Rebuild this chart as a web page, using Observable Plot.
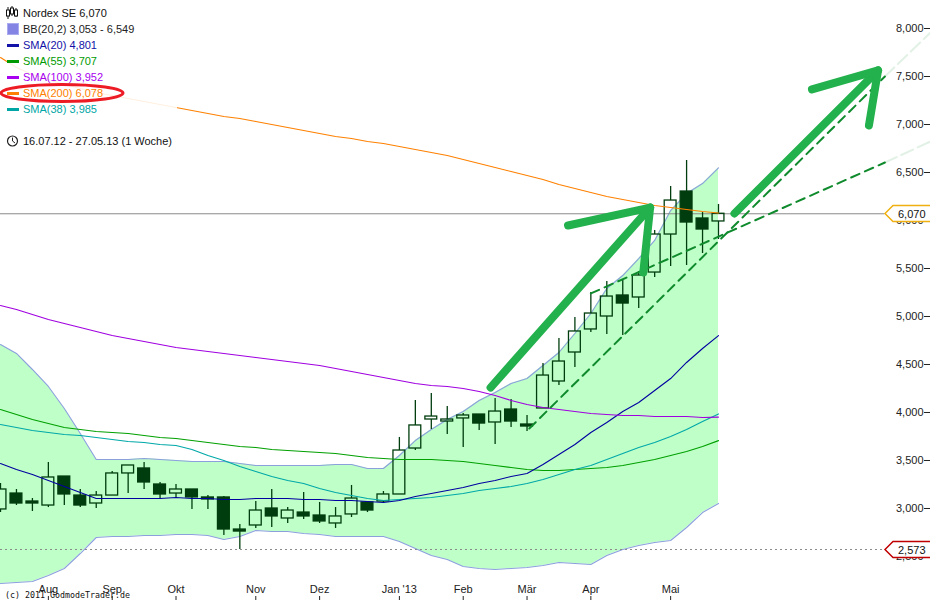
<!DOCTYPE html>
<html><head><meta charset="utf-8">
<style>
html,body{margin:0;padding:0;background:#fff}
#wrap{position:relative;width:930px;height:600px;overflow:hidden;font-family:"Liberation Sans",Arial,sans-serif}
#wrap svg{display:block}
#veil{position:absolute;left:8px;top:0;width:169px;height:150px;background:rgba(255,255,255,.88)}
.row{position:absolute;left:23px;font-size:11px;line-height:14px;white-space:nowrap}
.key{position:absolute;left:7px;width:12px;height:3px}
#ov{position:absolute;left:0;top:0;pointer-events:none}
#copy{position:absolute;left:5px;top:589px;font:8.3px/12px "DejaVu Sans Mono",monospace;color:#111;white-space:nowrap}
</style>
<script src="https://cdn.jsdelivr.net/npm/d3@7"></script>
<script src="https://cdn.jsdelivr.net/npm/@observablehq/plot@0.6"></script>
</head><body><div id="wrap"></div>
<script>
const open_ = [2990,3156,3073,3031,3333,3135,3052,3135,3365,3417,3250,3156,3198,3115,3115,2781,2823,3000,2896,2958,2927,2844,2938,3063,3073,3146,3625,3927,3906,3938,3979,3896,4031,3875,4042,4323,4625,4865,5000,5219,5198,5458,5854,6302,6021,5990];
const high_ = [3260,3198,3104,3479,3333,3198,3177,3385,3448,3479,3271,3250,3198,3135,3125,2833,3073,3198,3010,3167,3063,3010,3240,3073,3177,3740,4125,4198,4063,3990,3979,4146,4135,3969,4510,4771,4990,5250,5365,5375,5469,5896,6354,6625,6083,6167];
const low_ = [2958,3031,2969,3010,3031,3010,3000,3135,3156,3198,3104,3115,2990,2990,2719,2573,2792,2802,2844,2885,2844,2792,2906,2958,3052,3146,3604,3823,3771,3635,3813,3667,3844,3802,4042,4281,4469,4833,4813,4802,5083,5406,5521,5531,5656,5802];
const close_ = [3198,3052,3052,3323,3146,3031,3135,3365,3448,3271,3146,3198,3115,3094,2781,2760,2979,2917,2979,2917,2865,2917,3104,2979,3146,3604,3865,3958,3927,3969,3885,4010,3906,3854,4385,4531,4844,5031,5208,5135,5427,5854,6208,5979,5906,6070];
const bbUpper = [4708,4615,4448,4271,4042,3781,3510,3510,3510,3521,3510,3500,3490,3490,3490,3469,3448,3448,3448,3448,3448,3458,3458,3417,3417,3552,3708,3823,3927,4010,4125,4208,4302,4354,4490,4625,4823,5031,5292,5427,5604,5792,6104,6281,6385,6549];
const bbLower = [2219,2229,2240,2302,2375,2531,2698,2708,2708,2719,2719,2729,2729,2719,2677,2708,2771,2760,2760,2740,2729,2708,2708,2708,2708,2656,2583,2510,2469,2396,2375,2365,2375,2385,2406,2438,2427,2417,2510,2573,2615,2646,2667,2802,2958,3053];
const sma20 = [3469,3406,3354,3292,3229,3167,3104,3104,3104,3104,3104,3115,3104,3104,3094,3094,3104,3104,3104,3094,3094,3083,3083,3073,3063,3083,3125,3156,3188,3219,3260,3292,3333,3365,3458,3563,3667,3792,3896,4010,4104,4229,4354,4521,4667,4801];
const sma38 = [3875,3844,3813,3792,3771,3760,3740,3719,3698,3688,3667,3656,3615,3552,3500,3438,3385,3333,3292,3260,3208,3167,3135,3104,3083,3094,3104,3115,3135,3156,3188,3208,3229,3260,3302,3354,3406,3448,3510,3573,3635,3688,3750,3823,3906,3985];
const sma55 = [4031,3979,3927,3885,3844,3823,3802,3792,3781,3760,3740,3729,3708,3688,3667,3646,3635,3615,3604,3594,3583,3573,3552,3531,3521,3510,3510,3510,3500,3490,3469,3448,3427,3406,3396,3396,3406,3417,3427,3448,3479,3510,3552,3594,3646,3707];
const sma100 = [5115,5073,5021,4969,4927,4885,4844,4802,4771,4740,4708,4677,4656,4635,4615,4594,4573,4552,4531,4510,4490,4458,4427,4396,4365,4333,4302,4281,4271,4250,4219,4177,4125,4083,4052,4031,4010,3990,3979,3969,3969,3958,3958,3958,3948,3952];
const sma200 = [7698,7594,7521,7469,7417,7375,7333,7302,7271,7240,7208,7177,7146,7115,7083,7063,7031,7000,6969,6938,6906,6875,6854,6823,6802,6771,6740,6708,6677,6635,6594,6552,6510,6469,6427,6375,6333,6292,6250,6219,6188,6156,6135,6115,6094,6078];
const yTicks = [2500,3000,3500,4000,4500,5000,5500,6000,6500,7000,7500,8000];
const monthDates = ["2012-08-06","2012-09-03","2012-10-01","2012-11-05","2012-12-03","2013-01-07","2013-02-04","2013-03-04","2013-04-01","2013-05-06"];
const monthLabels = ["Aug","Sep","Okt","Nov","Dez","Jan '13","Feb","Mär","Apr","Mai"];
const lastPrice = 6070, lowPrice = 2573;

const trendSteep = [["2013-03-05",3833],["2013-08-08",7500]];
const trendSteepFaint = [["2013-08-08",7500],["2013-08-28",7958]];
const trendFlat = [["2013-04-01",5240],["2013-08-08",6604]];
const trendFlatFaint = [["2013-08-08",6604],["2013-08-28",6823]];
const arrowOne = [["2013-02-16",4260],["2013-04-27",6135]];
const arrowOneHead = [["2013-03-22",5948],["2013-04-27",6135],["2013-04-24",5458]];
const arrowTwo = [["2013-06-03",6073],["2013-08-05",7563]];
const arrowTwoHead = [["2013-07-07",7365],["2013-08-05",7563],["2013-08-01",6990]];

const legendLabels = ["Nordex SE 6,070","BB(20,2) 3,053 - 6,549","SMA(20) 4,801","SMA(55) 3,707","SMA(100) 3,952","SMA(200) 6,078","SMA(38) 3,985"];
const legendColors = ["#111","#222","#1212a8","#009a00","#a800f0","#ff8000","#00a6a6"];
const lineColors = {sma20:"#0000a0",sma38:"#00a8a8",sma55:"#00a000",sma100:"#a000e0",sma200:"#ff8000"};

const weeks = d3.utcMonday.range(new Date(Date.UTC(2012,6,16)), new Date(Date.UTC(2013,4,28)));
const rows = weeks.map((date,i)=>({date,o:open_[i],h:high_[i],l:low_[i],c:close_[i],up:bbUpper[i],lo:bbLower[i]}));
const series = a => a.map((v,i)=>({date:weeks[i],v}));
const pts = a => a.map(([d,v])=>({date:new Date(d),v}));
const halfBody = 2.6*864e5;
const dark = "#003d0e";

const lineMark = (a,stroke,sw=1.1)=>Plot.line(series(a),{x:"date",y:"v",stroke,strokeWidth:sw});
const dashMark = a=>Plot.line(pts(a),{x:"date",y:"v",stroke:"#0f8a2c",strokeWidth:2,strokeDasharray:"9,6"});
const faintMark = a=>Plot.line(pts(a),{x:"date",y:"v",stroke:"#0f8a2c",strokeWidth:2,strokeOpacity:.12,strokeDasharray:"13,5"});
const paint = a=>Plot.line(pts(a),{x:"date",y:"v",stroke:"#22b14c",strokeWidth:8,strokeLinecap:"round",strokeLinejoin:"round"});
const tag = (value,label,color)=>(index,scales)=>{
  const y=Math.round(scales.y(value))+.5;
  const g=d3.create("svg:g");
  g.append("path").attr("d",`M932 ${y-8}H893L885 ${y}L893 ${y+8}H932`).attr("fill","#fff").attr("stroke",color).attr("stroke-width",1.5);
  g.append("text").attr("x",898).attr("y",y+4).attr("font-size",11).attr("text-anchor","start").attr("fill","#111").text(label);
  return g.node();
};
const box = (filter,extra)=>Plot.rect(rows.filter(filter),{
  x1:d=>new Date(+d.date-halfBody),x2:d=>new Date(+d.date+halfBody),
  y1:"o",y2:"c",stroke:dark,strokeWidth:1.3,shapeRendering:"geometricPrecision",...extra});

const chart = Plot.plot({
  width:930,height:600,marginTop:0,marginLeft:0,marginRight:7,marginBottom:4,
  style:{fontFamily:'"Liberation Sans",Arial,sans-serif',fontSize:"11px",color:"#222",background:"#fff"},
  x:{type:"utc",domain:[new Date(Date.UTC(2012,6,16)),new Date(Date.UTC(2013,4,27))],range:[0,718]},
  y:{domain:[2083.33,8291.67],range:[596,0]},
  marks:[
    Plot.areaY(rows,{x:"date",y1:"lo",y2:"up",fill:"#bfffc8"}),
    Plot.line(rows,{x:"date",y:"up",stroke:"#8ba0dd",strokeWidth:1.1}),
    Plot.line(rows,{x:"date",y:"lo",stroke:"#8ba0dd",strokeWidth:1.1}),
    Plot.ruleY([lastPrice],{x1:new Date(Date.UTC(2012,6,16)),x2:new Date("2013-08-08"),stroke:"#8a8a8a",strokeWidth:1}),
    Plot.ruleY([lowPrice],{x1:new Date(Date.UTC(2012,6,16)),x2:new Date("2013-08-08"),stroke:"#8a8a8a",strokeWidth:1,strokeDasharray:"2,3"}),
    Plot.ruleX(rows,{x:"date",y1:"h",y2:d=>Math.max(d.o,d.c),stroke:dark,strokeWidth:1.3}),
    Plot.ruleX(rows,{x:"date",y1:"l",y2:d=>Math.min(d.o,d.c),stroke:dark,strokeWidth:1.3}),
    box(d=>d.c>=d.o,{fill:"none"}),
    box(d=>d.c<d.o,{fill:dark}),
    lineMark(sma55,lineColors.sma55),
    lineMark(sma38,lineColors.sma38),
    lineMark(sma20,lineColors.sma20),
    lineMark(sma100,lineColors.sma100),
    lineMark(sma200,lineColors.sma200),
    dashMark(trendSteep),dashMark(trendFlat),
    faintMark(trendSteepFaint),faintMark(trendFlatFaint),
    paint(arrowOne),paint(arrowOneHead),paint(arrowTwo),paint(arrowTwoHead),
    Plot.axisX(monthDates.map(d=>new Date(d)),{anchor:"bottom",label:null,tickSize:4,tickPadding:-15,
      tickFormat:d=>monthLabels[monthDates.indexOf(d.toISOString().slice(0,10))],stroke:"#222",fill:"#222"}),
    Plot.axisY(yTicks,{anchor:"right",label:null,tickSize:6,tickPadding:-6,textAnchor:"end",tickFormat:d3.format(","),stroke:"#222",fill:"#222"}),
    tag(lastPrice,"6,070","#efb010"),
    tag(lowPrice,"2,573","#c00000")
  ]
});

const wrap = d3.select("#wrap");
wrap.node().append(chart);
wrap.append("div").attr("id","veil");
legendLabels.forEach((t,i)=>{
  wrap.append("div").attr("class","row").style("top",(6+16*i)+"px").style("color",legendColors[i]).text(t);
  if(i>=2) wrap.append("div").attr("class","key").style("top",(12+16*i)+"px").style("background",legendColors[i]);
});
wrap.append("div").attr("class","row").style("top","134px").style("color","#111").text("16.07.12 - 27.05.13 (1 Woche)");
wrap.append("div").attr("id","copy").text("(c) 2011 GodmodeTrader.de");
const ov = wrap.append("svg").attr("id","ov").attr("width",930).attr("height",600);
ov.append("rect").attr("x",7.5).attr("y",23.5).attr("width",11).attr("height",11).attr("fill","#8484e4").attr("stroke","#aaaaf0");
[[8,7,13,10,15],[12,6,15,8,12],[16,8,15,10,13]].forEach(([x,a,b,c,d])=>{
  ov.append("line").attr("x1",x).attr("x2",x).attr("y1",a).attr("y2",d+4).attr("stroke","#111");
  ov.append("rect").attr("x",x-1.5).attr("y",c).attr("width",3).attr("height",6).attr("fill","#fff").attr("stroke","#111");
});
ov.append("circle").attr("cx",12.5).attr("cy",141).attr("r",5).attr("fill","none").attr("stroke","#222").attr("stroke-width",1.2);
ov.append("path").attr("d","M12.5 137.5V141L15 143").attr("fill","none").attr("stroke","#222");
ov.append("ellipse").attr("cx",62).attr("cy",93).attr("rx",61).attr("ry",8.5).attr("fill","none").attr("stroke","#ed1c24").attr("stroke-width",3);
</script></body></html>
